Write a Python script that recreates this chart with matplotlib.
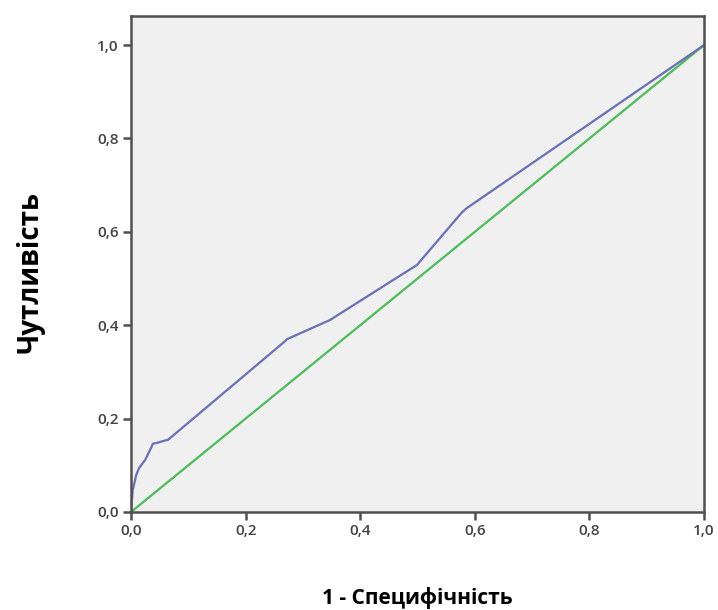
import numpy as np
import matplotlib.pyplot as plt
from matplotlib.ticker import FuncFormatter

# ROC curve points
fpr = [0.0, 0.003, 0.009, 0.014, 0.025, 0.036, 0.038, 0.045, 0.065,
       0.269, 0.272, 0.347, 0.499, 0.577, 0.585, 1.0]
tpr = [0.0, 0.047, 0.079, 0.094, 0.112, 0.140, 0.146, 0.148, 0.155,
       0.366, 0.370, 0.411, 0.529, 0.641, 0.650, 1.0]
ref = [0.0, 1.0]

ticks = [0.0, 0.2, 0.4, 0.6, 0.8, 1.0]

fig = plt.figure(figsize=(7.18, 6.10), dpi=100)
ax = fig.add_axes([0.1825, 0.1607, 0.798, 0.8136])
ax.set_facecolor('#f0f0f0')

ax.plot(ref, ref, color='#4cbb5a', linewidth=1.6)
ax.plot(fpr, tpr, color='#6a70b4', linewidth=1.6)

ax.set_xlim(0, 1.0)
ax.set_ylim(0, 1.063)
ax.set_xticks(ticks)
ax.set_yticks(ticks)
fmt = FuncFormatter(lambda v, p: ("%.1f" % v).replace('.', ','))
ax.xaxis.set_major_formatter(fmt)
ax.yaxis.set_major_formatter(fmt)

for s in ax.spines.values():
    s.set_color('#505050')
    s.set_linewidth(1.8)
ax.tick_params(direction='out', length=6, width=1.8, color='#505050',
               labelsize=11, labelcolor='#444444', pad=3)
for lab in ax.get_xticklabels() + ax.get_yticklabels():
    lab.set_family('Open Sans')
    lab.set_fontweight('semibold')

ax.set_xlabel('1 - Специфічність', fontsize=15, fontweight='bold',
              family='Open Sans', labelpad=35)
ax.set_ylabel('Чутливість', fontsize=20, fontweight='bold',
              family='Open Sans', labelpad=38)
ax.yaxis.label.set_y(0.484)

plt.savefig('out.png', dpi=100)
